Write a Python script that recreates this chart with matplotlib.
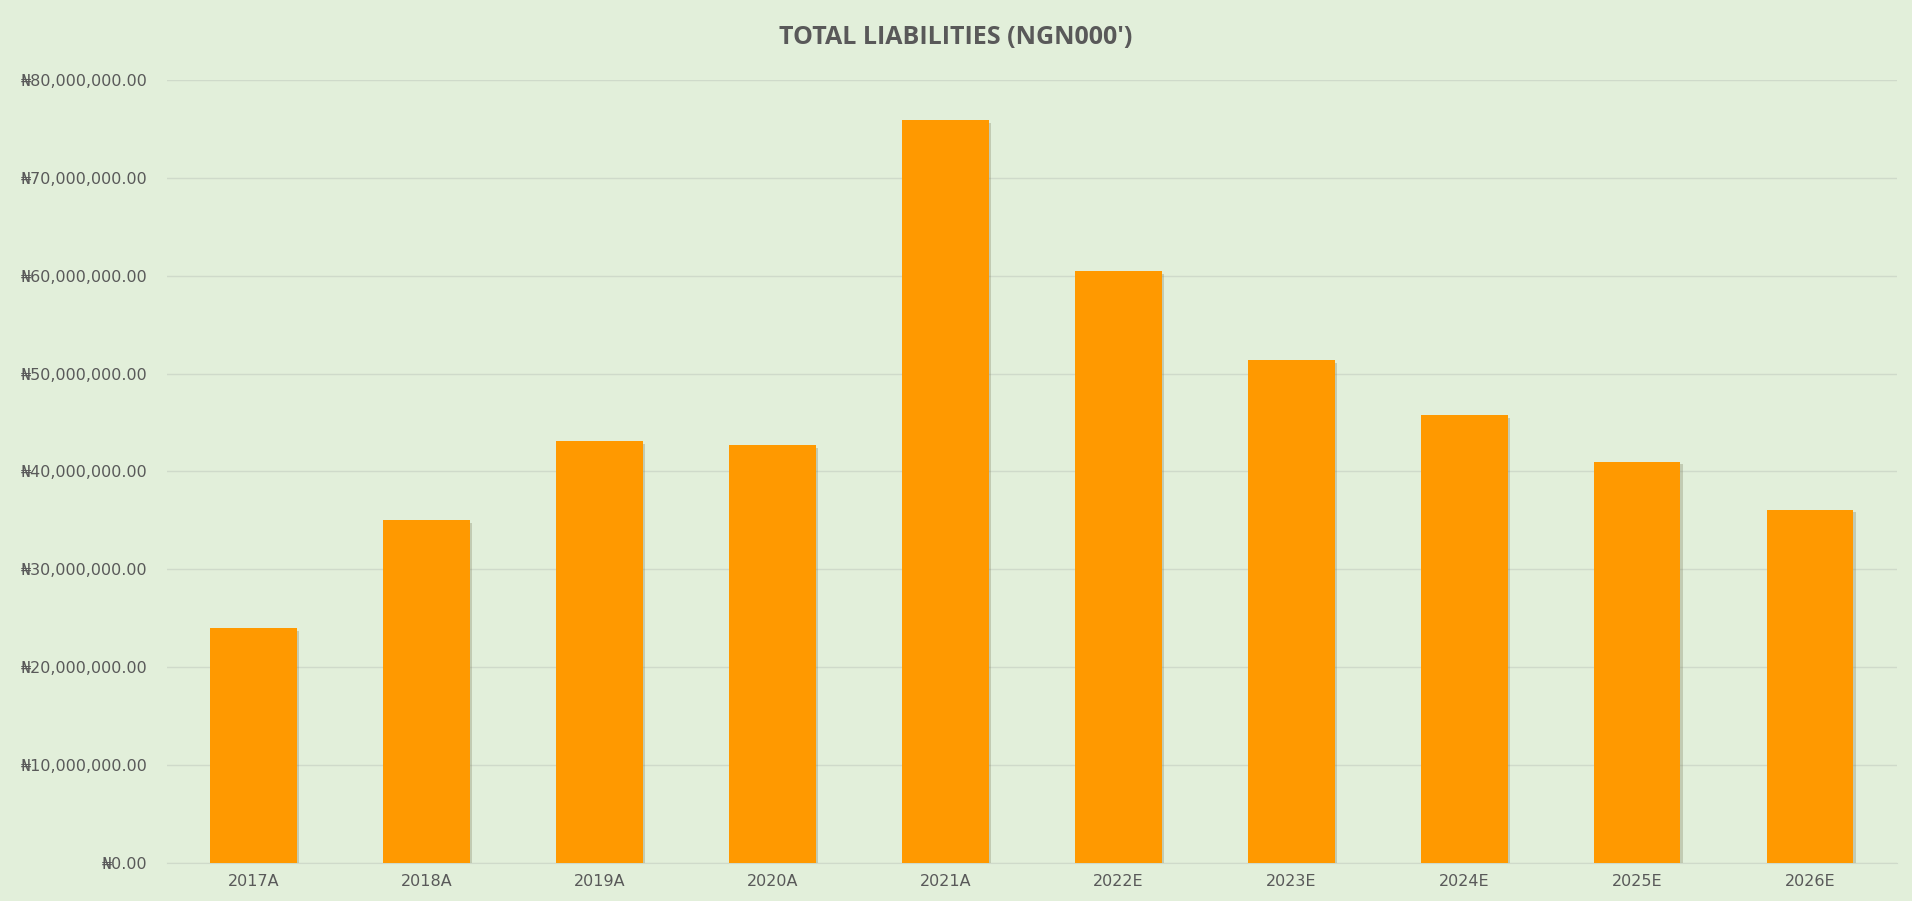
import matplotlib
matplotlib.use("Agg")
import matplotlib.pyplot as plt
import matplotlib.patheffects as pe
from matplotlib.ticker import FuncFormatter, MultipleLocator

categories = ["2017A", "2018A", "2019A", "2020A", "2021A",
              "2022E", "2023E", "2024E", "2025E", "2026E"]
values = [24.0e6, 35.0e6, 43.1e6, 42.7e6, 75.9e6,
          60.5e6, 51.4e6, 45.8e6, 41.0e6, 36.1e6]
title = "TOTAL LIABILITIES (NGN000')"

bg = "#E2EFDA"
fig = plt.figure(figsize=(19.12, 9.01), dpi=100, facecolor=bg)
ax = fig.add_axes([0.0873, 0.0422, 0.9047, 0.869], facecolor=bg)

x = range(len(categories))
bars = ax.bar(x, values, width=0.5, color="#FF9900", zorder=3)
for b in bars:
    b.set_path_effects([pe.SimplePatchShadow(offset=(2, -2), shadow_rgbFace="#7a7a5a", alpha=0.3),
                        pe.Normal()])

ax.set_xlim(-0.5, len(categories) - 0.5)
ax.set_ylim(0, 80e6)
ax.yaxis.set_major_locator(MultipleLocator(10e6))
ax.yaxis.set_major_formatter(FuncFormatter(lambda v, p: "\u20a6{:,.2f}".format(v)))
ax.set_xticks(list(x))
ax.set_xticklabels(categories)
ax.grid(axis="y", color="#CFDACA", linewidth=1.0, zorder=0)
for s in ax.spines.values():
    s.set_visible(False)
ax.spines["bottom"].set_visible(True)
ax.spines["bottom"].set_color("#CFDACA")
ax.tick_params(axis="both", length=0, colors="#595959", labelsize=11.5, labelfontfamily="DejaVu Sans")
ax.tick_params(axis="y", pad=14)
ax.tick_params(axis="x", pad=8)

fig.text(0.5, 0.958, title, ha="center", va="center", fontsize=18,
         fontweight="bold", color="#595959", family="Open Sans")

fig.savefig("out.png", dpi=100, facecolor=bg)
